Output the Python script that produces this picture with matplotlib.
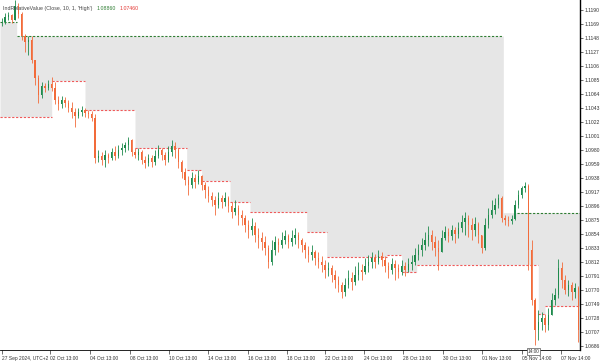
import numpy as np
import matplotlib
matplotlib.use('Agg')
import matplotlib.pyplot as plt

plt.rcParams['font.family'] = ['Liberation Sans Narrow', 'Liberation Sans', 'DejaVu Sans']

# 4-hour candles (price)
close = [1.1172, 1.1180, 1.1183, 1.1175, 1.1196, 1.1184,
         1.1151, 1.1142, 1.1145, 1.1115, 1.1088, 1.1063,
         1.1076, 1.1073, 1.1079, 1.1073, 1.1055, 1.1049,
         1.1055, 1.1051, 1.1043, 1.1037, 1.1031, 1.1037,
         1.1040, 1.1036, 1.1034, 1.1028, 1.0968, 1.0971,
         1.0965, 1.0973, 1.0968, 1.0977, 1.0971, 1.0980,
         1.0983, 1.0988, 1.0995, 1.0977, 1.0973, 1.0977,
         1.0965, 1.0961, 1.0968, 1.0962, 1.0971, 1.0980,
         1.0973, 1.0965, 1.0977, 1.0986, 1.0980, 1.0962,
         1.0947, 1.0935, 1.0928, 1.0938, 1.0932, 1.0941,
         1.0928, 1.0920, 1.0911, 1.0905, 1.0898, 1.0908,
         1.0902, 1.0908, 1.0896, 1.0887, 1.0893, 1.0883,
         1.0878, 1.0868, 1.0860, 1.0866, 1.0853, 1.0848,
         1.0842, 1.0833, 1.0812, 1.0830, 1.0842, 1.0838,
         1.0845, 1.0851, 1.0842, 1.0848, 1.0853, 1.0845,
         1.0838, 1.0830, 1.0823, 1.0827, 1.0818, 1.0812,
         1.0808, 1.0800, 1.0803, 1.0793, 1.0785, 1.0778,
         1.0767, 1.0778, 1.0788, 1.0782, 1.0793, 1.0800,
         1.0797, 1.0806, 1.0812, 1.0818, 1.0812, 1.0821,
         1.0815, 1.0806, 1.0800, 1.0809, 1.0803, 1.0797,
         1.0806, 1.0800, 1.0809, 1.0812, 1.0823, 1.0830,
         1.0838, 1.0845, 1.0853, 1.0842, 1.0833, 1.0827,
         1.0848, 1.0857, 1.0851, 1.0860, 1.0854, 1.0863,
         1.0872, 1.0878, 1.0868, 1.0860, 1.0869, 1.0853,
         1.0833, 1.0868, 1.0883, 1.0890, 1.0898, 1.0908,
         1.0878, 1.0875, 1.0874, 1.0877, 1.0898, 1.0913,
         1.0923, 1.0926, 1.0830, 1.0755, 1.0710, 1.0722,
         1.0728, 1.0718, 1.0733, 1.0755, 1.0763, 1.0803,
         1.0785, 1.0770, 1.0778, 1.0767, 1.0773, 1.0710]
high = [1.1178, 1.1186, 1.1187, 1.1184, 1.1205, 1.1200,
        1.1187, 1.1154, 1.1151, 1.1151, 1.1115, 1.1093,
        1.1082, 1.1081, 1.1085, 1.1090, 1.1082, 1.1061,
        1.1061, 1.1060, 1.1055, 1.1052, 1.1043, 1.1043,
        1.1046, 1.1043, 1.1040, 1.1039, 1.1034, 1.0980,
        1.0977, 1.0980, 1.0976, 1.0983, 1.0986, 1.0988,
        1.0991, 1.0992, 1.1000, 1.0997, 1.0983, 1.0983,
        1.0980, 1.0971, 1.0974, 1.0973, 1.0980, 1.0988,
        1.0983, 1.0977, 1.0986, 1.0995, 1.0992, 1.0983,
        1.0965, 1.0953, 1.0941, 1.0947, 1.0944, 1.0950,
        1.0943, 1.0932, 1.0926, 1.0917, 1.0911, 1.0917,
        1.0913, 1.0917, 1.0911, 1.0902, 1.0905, 1.0898,
        1.0890, 1.0883, 1.0875, 1.0878, 1.0872, 1.0863,
        1.0857, 1.0851, 1.0838, 1.0845, 1.0851, 1.0848,
        1.0857, 1.0860, 1.0854, 1.0860, 1.0863, 1.0857,
        1.0848, 1.0842, 1.0836, 1.0838, 1.0830, 1.0827,
        1.0821, 1.0815, 1.0812, 1.0808, 1.0800, 1.0791,
        1.0782, 1.0788, 1.0800, 1.0797, 1.0806, 1.0812,
        1.0809, 1.0818, 1.0823, 1.0827, 1.0824, 1.0830,
        1.0827, 1.0821, 1.0812, 1.0818, 1.0815, 1.0809,
        1.0815, 1.0812, 1.0818, 1.0823, 1.0833, 1.0839,
        1.0848, 1.0857, 1.0866, 1.0860, 1.0851, 1.0845,
        1.0860, 1.0866, 1.0863, 1.0868, 1.0865, 1.0872,
        1.0883, 1.0887, 1.0883, 1.0878, 1.0880, 1.0872,
        1.0851, 1.0878, 1.0893, 1.0905, 1.0908, 1.0914,
        1.0911, 1.0883, 1.0881, 1.0883, 1.0905, 1.0920,
        1.0926, 1.0932, 1.0929, 1.0845, 1.0758, 1.0740,
        1.0737, 1.0734, 1.0743, 1.0766, 1.0773, 1.0817,
        1.0812, 1.0793, 1.0785, 1.0782, 1.0781, 1.0776]
low = [1.1166, 1.1169, 1.1175, 1.1171, 1.1175, 1.1178,
       1.1145, 1.1127, 1.1123, 1.1111, 1.1078, 1.1051,
       1.1058, 1.1067, 1.1070, 1.1069, 1.1049, 1.1040,
       1.1043, 1.1045, 1.1037, 1.1028, 1.1015, 1.1028,
       1.1031, 1.1030, 1.1028, 1.1024, 1.0961, 1.0962,
       1.0958, 1.0955, 1.0961, 1.0965, 1.0965, 1.0968,
       1.0973, 1.0977, 1.0980, 1.0971, 1.0968, 1.0965,
       1.0959, 1.0953, 1.0956, 1.0955, 1.0958, 1.0968,
       1.0965, 1.0958, 1.0962, 1.0971, 1.0968, 1.0953,
       1.0938, 1.0928, 1.0913, 1.0923, 1.0923, 1.0929,
       1.0920, 1.0908, 1.0902, 1.0896, 1.0883, 1.0893,
       1.0893, 1.0896, 1.0887, 1.0878, 1.0883, 1.0868,
       1.0868, 1.0857, 1.0848, 1.0853, 1.0842, 1.0833,
       1.0830, 1.0823, 1.0803, 1.0808, 1.0823, 1.0827,
       1.0833, 1.0839, 1.0833, 1.0836, 1.0839, 1.0833,
       1.0827, 1.0818, 1.0812, 1.0815, 1.0808, 1.0803,
       1.0797, 1.0788, 1.0791, 1.0782, 1.0773, 1.0767,
       1.0758, 1.0761, 1.0773, 1.0770, 1.0778, 1.0785,
       1.0785, 1.0794, 1.0797, 1.0803, 1.0803, 1.0809,
       1.0806, 1.0797, 1.0788, 1.0794, 1.0785, 1.0788,
       1.0793, 1.0791, 1.0797, 1.0800, 1.0808, 1.0815,
       1.0821, 1.0830, 1.0836, 1.0830, 1.0821, 1.0800,
       1.0833, 1.0845, 1.0842, 1.0845, 1.0841, 1.0848,
       1.0857, 1.0853, 1.0850, 1.0845, 1.0851, 1.0841,
       1.0825, 1.0830, 1.0863, 1.0878, 1.0884, 1.0893,
       1.0872, 1.0868, 1.0866, 1.0869, 1.0875, 1.0893,
       1.0908, 1.0917, 1.0800, 1.0748, 1.0688, 1.0695,
       1.0710, 1.0707, 1.0710, 1.0733, 1.0748, 1.0758,
       1.0773, 1.0764, 1.0761, 1.0755, 1.0758, 1.0692]

# indicator levels: segment start (bar index) and value
grn_start = [-0.5, 4.5, 150.5]
grn_level = [1.1172, 1.1151, 1.0886]
red_start = [-0.5, 15, 25, 40, 55.5, 60, 68.5, 74.5, 91.5, 97.5, 115.5, 120, 124.5, 161, 163]
red_level = [1.1030, 1.1084, 1.1040, 1.0983, 1.0950, 1.0934, 1.0902, 1.0887,
             1.0857, 1.0820, 1.0823, 1.0797, 1.0808, 1.0734, 1.0746]

yticks = [round(1.1190 - 0.0021 * k, 5) for k in range(25)]
xtick_pos = [0, 14.4, 26.4, 38.4, 50.1, 61.8, 73.8, 85.5, 96.9, 108.6, 120.3, 132.3, 144, 156, 167.7]
xtick_lab = ['27 Sep 2024, UTC+2', '02 Oct 13:00', '04 Oct 13:00', '08 Oct 13:00', '10 Oct 13:00',
             '14 Oct 13:00', '16 Oct 13:00', '18 Oct 13:00', '22 Oct 13:00', '24 Oct 13:00',
             '28 Oct 13:00', '30 Oct 13:00', '01 Nov 13:00', '05 Nov 14:00', '07 Nov 14:00']
title = "IndRelativeValue (Close, 10, 1, 'High')"

close = np.array(close)
high = np.array(high)
low = np.array(low)
opn = np.r_[close[0], close[:-1]]
high = np.maximum(high, np.maximum(opn, close))
low = np.minimum(low, np.minimum(opn, close))
n = len(close)
x = np.arange(n)

fig = plt.figure(figsize=(6.0, 3.63), dpi=100)
ax = fig.add_axes([0, 13 / 363, 580 / 600, 350 / 363])

# shaded band between the green and red levels
grid = np.arange(-0.5, n - 0.5 + 0.01, 0.25)
up = np.array(grn_level)[np.searchsorted(grn_start, grid, side='right') - 1]
lo = np.array(red_level)[np.searchsorted(red_start, grid, side='right') - 1]
ax.fill_between(grid, up, lo, where=up > lo, color='#e6e6e6', lw=0, step='post', zorder=0)

ends = red_start[1:] + [n - 0.5]
for s, e, v in zip(red_start, ends, red_level):
    ax.plot([s, e], [v, v], color='#ef5a5a', lw=0.8, ls=(0, (2, 1.5)), zorder=1)
ends = grn_start[1:] + [n - 0.5]
for s, e, v in zip(grn_start, ends, grn_level):
    if v == grn_level[-1]:
        s = 154.5
    ax.plot([s, e], [v, v], color='#2e7d32', lw=0.8, ls=(0, (2, 1.5)), zorder=1)

up_bar = close >= opn
colors = np.where(up_bar, '#1e8a4c', '#f26b3a')
ax.vlines(x, low, high, colors=colors, lw=0.6, zorder=2)
body = np.maximum(np.abs(close - opn), 0.00006)
ax.bar(x, body, bottom=np.minimum(opn, close), width=0.45, color=colors, lw=0, zorder=3)

ax.set_xlim(-0.5, n - 0.5)
ax.set_ylim(1.0680, 1.1205)

ax.yaxis.tick_right()
ax.set_yticks(yticks)
ax.set_yticklabels(['%.4f' % v for v in yticks])
ax.tick_params(axis='y', labelsize=3.6, colors='#333333', length=2, width=0.5, pad=1)
ax.set_xticks(xtick_pos)
ax.set_xticklabels(xtick_lab)
for lab in ax.get_xticklabels():
    lab.set_horizontalalignment('left')
ax.tick_params(axis='x', labelsize=3.5, colors='#333333', length=3, width=0.5, pad=1)

for side in ['left', 'top']:
    ax.spines[side].set_visible(False)
ax.spines['right'].set_linewidth(1.0)
ax.spines['bottom'].set_linewidth(0.6)

# title line: name, then the two current levels in their colours
t = ax.text(0.006, 0.983, title, transform=ax.transAxes,
            fontsize=3.8, color='#444444', va='top', ha='left')
fig.canvas.draw()
r = fig.canvas.get_renderer()
x0 = ax.transAxes.inverted().transform(t.get_window_extent(r))[1, 0] + 0.006
t2 = ax.text(x0, 0.983, '%.5f' % grn_level[-1], transform=ax.transAxes, fontsize=3.8,
             color='#2e7d32', va='top')
fig.canvas.draw()
x1 = ax.transAxes.inverted().transform(t2.get_window_extent(r))[1, 0] + 0.006
ax.text(x1, 0.983, '%.5f' % red_level[-1], transform=ax.transAxes, fontsize=3.8,
        color='#e53935', va='top')

ax.text(159.5, 1.0678, '14:00', fontsize=3.4, color='#333333', ha='center', va='center',
        bbox=dict(boxstyle='square,pad=0.2', fc='white', ec='#555555', lw=0.5), zorder=5,
        clip_on=False)

fig.savefig('out.png', dpi=100)
